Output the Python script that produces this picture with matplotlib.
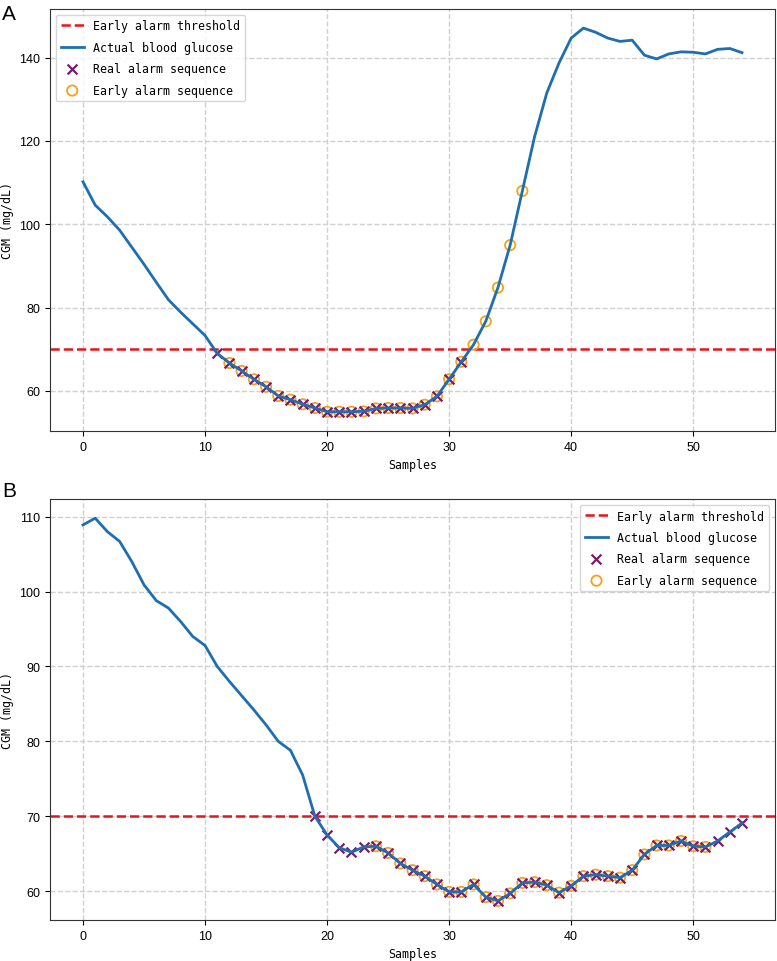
import matplotlib.pyplot as plt
import numpy as np

# panel A: actual glucose, samples 0..54
glucose_a = [110.2, 104.6, 101.8, 98.6, 94.5, 90.4, 86.1, 81.9, 78.9, 76.1,
             73.3, 69.0, 66.7, 64.8, 62.8, 61.0, 58.8, 57.9, 56.8, 55.9,
             55.0, 55.0, 55.0, 55.1, 55.8, 55.9, 55.9, 55.8, 56.7, 58.7,
             62.8, 67.0, 71.1, 76.7, 84.8, 95.0, 108.0, 121.0, 131.5, 138.7,
             144.7, 147.1, 146.1, 144.7, 143.9, 144.2, 140.6, 139.7, 140.9, 141.4,
             141.3, 140.9, 142.0, 142.2, 141.2]
real_idx_a = list(range(11, 32))
early_idx_a = list(range(12, 37))

# panel B
glucose_b = [108.9, 109.8, 108.0, 106.7, 104.0, 100.9, 98.8, 97.8, 96.0, 94.0,
             92.8, 90.0, 88.0, 86.1, 84.2, 82.2, 80.0, 78.8, 75.5, 70.0,
             67.5, 65.8, 65.2, 65.9, 66.0, 65.1, 63.7, 62.8, 62.0, 60.9,
             59.9, 59.9, 60.9, 59.2, 58.7, 59.7, 61.1, 61.2, 60.8, 59.8,
             60.7, 62.0, 62.2, 62.0, 61.8, 62.8, 64.9, 66.1, 66.1, 66.7,
             66.0, 65.9, 66.7, 67.9, 69.1]
real_idx_b = list(range(19, 55))
early_idx_b = list(range(24, 52))

threshold = 70

mono = 'DejaVu Sans Mono'
plt.rcParams['font.family'] = 'Liberation Sans'


def draw_panel(ax, glucose, real_idx, early_idx, legend_loc):
    x = np.arange(len(glucose))
    g = np.array(glucose)
    ax.axhline(threshold, color='#e8141c', linestyle='--', linewidth=1.8,
               label='Early alarm threshold', zorder=2)
    ax.plot(x, g, color='#1f6fae', linewidth=2, label='Actual blood glucose', zorder=4)
    ax.scatter(x[real_idx], g[real_idx], marker='x', color='#7a1a6e', s=50,
               linewidths=1.6, label='Real alarm sequence', zorder=3)
    ax.scatter(x[early_idx], g[early_idx], marker='o', facecolors='none',
               edgecolors='#f5a21b', s=55, linewidths=1.3,
               label='Early alarm sequence', zorder=2.5)
    ax.grid(True, linestyle='--', color='#d0d0d0', linewidth=1)
    ax.set_axisbelow(True)
    ax.set_xlabel('Samples', fontfamily=mono, fontsize=8.4)
    ax.set_ylabel('CGM (mg/dL)', fontfamily=mono, fontsize=8.4)
    ax.tick_params(labelsize=9)
    leg = ax.legend(loc=legend_loc, prop={'family': mono, 'size': 8.4},
                    labelspacing=0.72)
    leg.get_frame().set_edgecolor('#cccccc')
    for s in ax.spines.values():
        s.set_color('#333333')


fig = plt.figure(figsize=(7.77, 9.62), dpi=100)
ax1 = fig.add_axes([0.0644, 0.551, 0.933, 0.4387])
ax2 = fig.add_axes([0.0644, 0.0426, 0.933, 0.4376])

draw_panel(ax1, glucose_a, real_idx_a, early_idx_a, 'upper left')
draw_panel(ax2, glucose_b, real_idx_b, early_idx_b, 'upper right')
ax2.set_yticks([60, 70, 80, 90, 100, 110])

fig.text(0.003, 0.995, 'A', fontsize=15, va='top')
fig.text(0.003, 0.499, 'B', fontsize=15, va='top')

fig.savefig('out.png', dpi=100)
